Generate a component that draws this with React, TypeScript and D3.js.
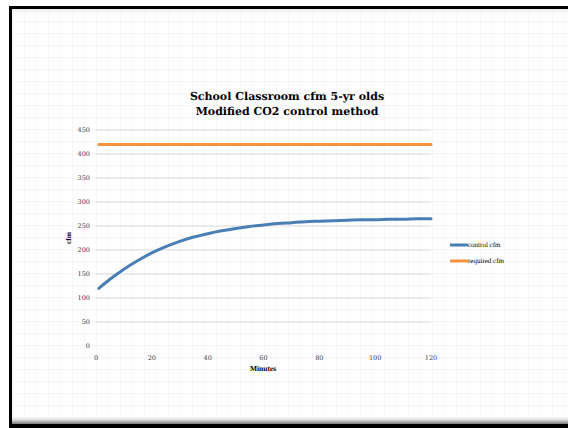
import React from 'react'
import * as d3 from 'd3'

// chart data
const minutes = [1, 5, 10, 15, 20, 25, 30, 35, 40, 45, 50, 55, 60, 65, 70, 75, 80, 85, 90, 95, 100, 105, 110, 115, 120]
const controlCfm = [120, 139, 160, 178, 194, 207, 218, 227, 234, 240, 245, 249, 252, 255, 257, 259, 260, 261, 262, 263, 263, 264, 264, 265, 265]
const requiredCfm = [420, 420, 420, 420, 420, 420, 420, 420, 420, 420, 420, 420, 420, 420, 420, 420, 420, 420, 420, 420, 420, 420, 420, 420, 420]
const yTicks = [0, 50, 100, 150, 200, 250, 300, 350, 400, 450]
const xTicks = [0, 20, 40, 60, 80, 100, 120]
const seriesNames = ['control cfm', 'required cfm']
const colors = ['#4a7fb5', '#f4923f']
const titleLines = ['School Classroom cfm 5-yr olds', 'Modified CO2 control method']

export default function App() {
	const W = 568
	const H = 428
	const serif = '"Liberation Serif", "DejaVu Serif", serif'
	const wide = '"DejaVu Serif", serif'

	const x = d3.scaleLinear().domain([0, 120]).range([96, 431])
	const y = d3.scaleLinear().domain([0, 450]).range([346, 130])

	const line = d3
		.line<number>()
		.x((_, i) => x(minutes[i]))
		.y((d) => y(d))
		.curve(d3.curveMonotoneX)

	const series = [controlCfm, requiredCfm]

	// faint slide grid
	const gridX = d3.range(12, W, 12)
	const gridY = d3.range(9, H, 12)

	return (
		<svg
			width={W}
			height={H}
			style={{ position: 'absolute', left: 0, top: 0, background: '#fff', textRendering: 'geometricPrecision' }}
		>
			<defs>
				<linearGradient id="bottomShade" x1="0" y1="0" x2="0" y2="1">
					<stop offset="0" stopColor="#ffffff" stopOpacity="0" />
					<stop offset="0.6" stopColor="#c4c4c4" />
					<stop offset="1" stopColor="#7a7a7a" />
				</linearGradient>
				<linearGradient id="topShade" x1="0" y1="0" x2="0" y2="1">
					<stop offset="0" stopColor="#e8e8e8" />
					<stop offset="1" stopColor="#ffffff" stopOpacity="0" />
				</linearGradient>
			</defs>

			{/* slide frame */}
			<rect x={9} y={6} width={W - 9} height={H - 6} fill="#000" />
			<rect x={12} y={9} width={W - 12} height={415} fill="#fefefe" />
			<g stroke="#f6f6f6" strokeWidth={1}>
				{gridX.map((gx) => (
					<line key={'gx' + gx} x1={gx + 0.5} x2={gx + 0.5} y1={9} y2={424} />
				))}
				{gridY.map((gy) => (
					<line key={'gy' + gy} x1={12} x2={W} y1={gy + 0.5} y2={gy + 0.5} />
				))}
			</g>
			<rect x={12} y={9} width={W - 12} height={7} fill="url(#topShade)" />
			<rect x={12} y={416} width={W - 12} height={8} fill="url(#bottomShade)" />

			{/* title */}
			<text x={287} textAnchor="middle" fontFamily={wide} fontWeight="bold" fontSize={11} fill="#000">
				{titleLines.map((t, i) => (
					<tspan key={i} x={287} y={100 + i * 15}>
						{t}
					</tspan>
				))}
			</text>

			{/* y gridlines + labels */}
			{yTicks.map((t) => (
				<g key={'y' + t}>
					{t > 0 && (
						<line x1={x(0)} x2={x(120)} y1={y(t)} y2={y(t)} stroke="#dcdcdc" strokeWidth={1} />
					)}
					<text
						x={90}
						y={y(t)}
						dy="0.35em"
						textAnchor="end"
						fontFamily={wide}
						fontSize={6.5}
						fill="#404040"
					>
						{t}
					</text>
				</g>
			))}

			{/* x labels */}
			{xTicks.map((t) => (
				<text
					key={'x' + t}
					x={x(t)}
					y={360}
					textAnchor="middle"
					fontFamily={wide}
					fontSize={6.5}
					fill="#404040"
				>
					{t}
				</text>
			))}

			<text x={263} y={371} textAnchor="middle" fontFamily={serif} fontWeight="bold" fontSize={7.5} fill="#000">
				Minutes
			</text>
			<text
				transform="translate(71,238) rotate(-90)"
				textAnchor="middle"
				fontFamily={serif}
				fontWeight="bold"
				fontSize={7.5}
				fill="#000"
			>
				cfm
			</text>

			{/* series */}
			{series.map((s, i) => (
				<path
					key={'s' + i}
					d={line(s) || ''}
					fill="none"
					stroke={colors[i]}
					strokeWidth={3}
					strokeLinecap="round"
				/>
			))}

			{/* legend */}
			{seriesNames.map((n, i) => (
				<g key={'l' + i} transform={`translate(450,${245 + i * 16})`}>
					<line x1={0} x2={18} y1={0} y2={0} stroke={colors[i]} strokeWidth={3} />
					<text x={18} y={0} dy="0.35em" fontFamily={serif} fontSize={7} fill="#000">
						{n}
					</text>
				</g>
			))}
		</svg>
	)
}
